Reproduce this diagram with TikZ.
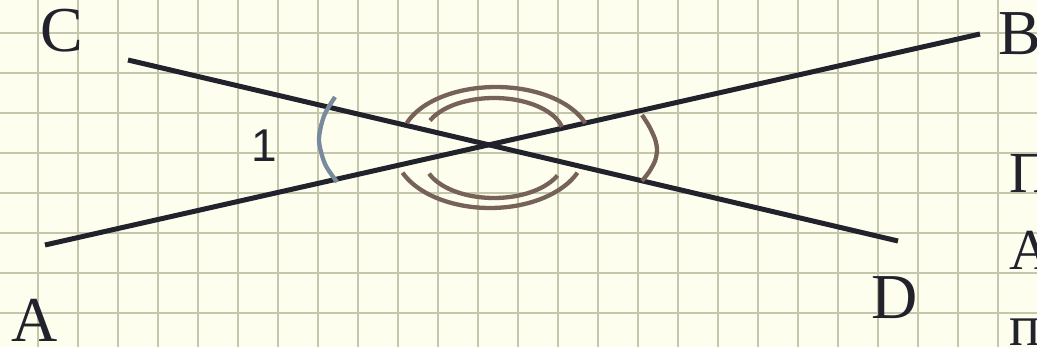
\documentclass[tikz,border=0pt]{standalone}
\usepackage{fontspec}
\setmainfont{Liberation Serif}
\newfontfamily\sansone{Liberation Sans}
\definecolor{paper}{RGB}{253,254,238}
\definecolor{gridc}{RGB}{196,199,172}
\definecolor{ink}{RGB}{34,34,44}
\definecolor{arcbrown}{RGB}{118,98,89}
\definecolor{arcblue}{RGB}{122,138,158}
\begin{document}
\begin{tikzpicture}[x=1pt,y=-1pt,
  gridline/.style={gridc,line width=2pt},
  mainline/.style={ink,line width=5pt},
  brownarc/.style={arcbrown,line width=4.3pt},
  bluearc/.style={arcblue,line width=4.3pt},
  ptlabel/.style={inner sep=0pt,anchor=base west,font=\fontsize{64}{64}\selectfont,text=ink},
  sidetext/.style={inner sep=0pt,anchor=base west,font=\fontsize{58}{58}\selectfont,text=ink},
  numlabel/.style={inner sep=0pt,anchor=base west,font=\sansone\fontsize{46}{46}\selectfont,text=ink}]
\useasboundingbox (0,0) rectangle (1037,347);
\clip (0,0) rectangle (1037,347);
\fill[paper] (0,0) rectangle (1037,347);
% grid
\foreach \k in {0,...,25} {\draw[gridline] ({38+40*\k},0) -- ({38+40*\k},347);}
\foreach \k in {0,...,8} {\draw[gridline] (0,{33+40*\k}) -- (1037,{33+40*\k});}
% line endpoints
\coordinate (pA) at (45,245);
\coordinate (pB) at (980,34);
\coordinate (pC) at (128,60);
\coordinate (pD) at (898,241);
\draw[mainline] (pA) -- (pB);
\draw[mainline] (pC) -- (pD);
% angle arcs
\draw[bluearc] plot[smooth] coordinates {(335,97) (324,116) (319,140) (325,164) (337,182)};
% outer top
\draw[brownarc] plot[domain=20:160,samples=50,variable=\t] ({496+95*cos(\t)},{142-55*sin(\t)});
% inner top
\draw[brownarc] plot[domain=14:156,samples=50,variable=\t] ({494+70*cos(\t)},{136-38*sin(\t)});
% inner bottom
\draw[brownarc] plot[domain=202:335,samples=50,variable=\t] ({494+70*cos(\t)},{159-39*sin(\t)});
% outer bottom
\draw[brownarc] plot[domain=203:337,samples=50,variable=\t] ({490+95*cos(\t)},{150-58*sin(\t)});
% right angle arc
\draw[brownarc] plot[smooth] coordinates {(642,115) (649,126) (655,139) (657,150) (655,161) (649,172) (642,181)};
% labels
\node[ptlabel] (lC) at (40,52) {C};
\node[ptlabel] (lB) at (998,55) {B};
\node[ptlabel] (lA) at (11,342) {A};
\node[ptlabel] (lD) at (871,319) {D};
\node[numlabel] (l1) at (251,162) {1};
\node[sidetext] (t1) at (1009,193) {П};
\node[sidetext] (t2) at (1009,270) {А};
\node[sidetext] (t3) at (1009,346) {п};
\end{tikzpicture}
\end{document}
